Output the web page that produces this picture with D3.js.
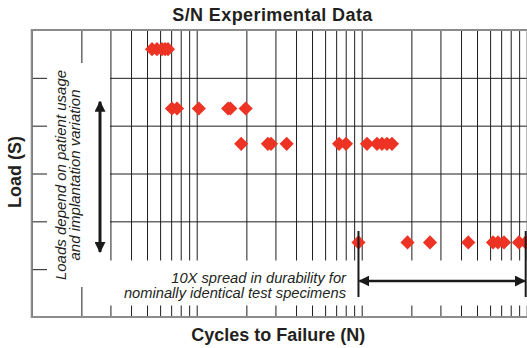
<!DOCTYPE html>
<html>
<head>
<meta charset="utf-8">
<script src="https://cdn.jsdelivr.net/npm/d3@7"></script>
<style>
  html, body { margin: 0; padding: 0; background: #fff; }
  svg { display: block; }
  text { font-family: "Liberation Sans", Arial, Helvetica, sans-serif; fill: #231f20; }
</style>
</head>
<body>
<svg id="chart" width="527" height="348"></svg>
<script>
// Load levels (S) tested, and the cycles to failure (N) observed at each level
const loadLevels = [560, 436, 362, 156];
const cyclesAtLevel1 = [53600, 57400, 61600, 64300, 67000];
const cyclesAtLevel2 = [70800, 76000, 103000, 155000, 160000, 198000];
const cyclesAtLevel3 = [186000, 270000, 282000, 351000, 729000, 803000, 1077000, 1238000, 1327000, 1423000, 1526000];
const cyclesAtLevel4 = [956000, 1895000, 2594000, 4426000, 6250000, 6700000, 7287000, 8975000, 9860000];
const cycleSeries = [cyclesAtLevel1, cyclesAtLevel2, cyclesAtLevel3, cyclesAtLevel4];

// Axis extents and grid
const cycleDomain = [1e4, 1e7];
const loadDomain = [0, 600];
const loadGridValues = [100, 200, 300, 400, 500];
// Range of loads spanned by the "patient usage" arrow
const loadSpread = [136, 450];

const titleText = "S/N Experimental Data";
const xLabel = "Cycles to Failure (N)";
const yLabel = "Load (S)";
const loadNote = ["Loads depend on patient usage", "and implantation variation"];
const spreadNote = ["10X spread in durability for", "nominally identical test specimens"];

const points = [];
cycleSeries.forEach((arr, i) => arr.forEach(n => points.push({ n, s: loadLevels[i], level: i })));

const svg = d3.select("#chart");
const plotLeft = 31.7, plotRight = 526.7, plotTop = 30, plotBottom = 317;

const x = d3.scaleLog().domain(cycleDomain).range([plotLeft, plotRight]);
const y = d3.scaleLinear().domain(loadDomain).range([plotBottom, plotTop]);

const gridColor = "#1e1e1e";
const frameColor = "#8c8c8c";
const red = "#ec3324";
const ink = "#1a1a1a";

// Vertical log gridlines (1..9 per decade)
const xGrid = svg.append("g")
  .attr("transform", `translate(0,${plotBottom})`)
  .call(d3.axisBottom(x).tickSizeInner(-(plotBottom - plotTop)).tickSizeOuter(0).tickFormat(""));
xGrid.select(".domain").remove();
xGrid.selectAll(".tick line").attr("stroke", gridColor).attr("stroke-width", 1);

// Horizontal load gridlines
const yGrid = svg.append("g")
  .attr("transform", `translate(${plotLeft},0)`)
  .call(d3.axisLeft(y).tickValues(loadGridValues).tickSizeInner(-(plotRight - plotLeft)).tickSizeOuter(0).tickFormat(""));
yGrid.select(".domain").remove();
yGrid.selectAll(".tick line").attr("stroke", gridColor).attr("stroke-width", 1);

// Frame: top, left, bottom
svg.append("path")
  .attr("d", `M${plotRight + 2},${plotTop} H${plotLeft} V${plotBottom} H${plotRight + 2}`)
  .attr("fill", "none")
  .attr("stroke", frameColor)
  .attr("stroke-width", 2);

// White panels behind the annotations
svg.append("rect").attr("x", 47).attr("y", 63).attr("width", 63).attr("height", 224).attr("fill", "#fff");
svg.append("rect").attr("x", 86).attr("y", 260.5).attr("width", 450).attr("height", 45).attr("fill", "#fff");

// Data markers: diamonds
const diamond = d3.symbol().type(d3.symbolSquare).size(100);
svg.append("g").selectAll("path")
  .data(points)
  .join("path")
  .attr("d", diamond)
  .attr("transform", d => `translate(${x(d.n)},${y(d.s)}) rotate(45)`)
  .attr("fill", red);

// Arrow marker defs
const defs = svg.append("defs");
defs.append("marker")
  .attr("id", "head")
  .attr("viewBox", "0 0 10 10")
  .attr("refX", 9).attr("refY", 5)
  .attr("markerUnits", "userSpaceOnUse")
  .attr("markerWidth", 11).attr("markerHeight", 11)
  .attr("orient", "auto-start-reverse")
  .append("path")
  .attr("d", "M0,0 L10,5 L0,10 Z")
  .attr("fill", ink);

// Vertical load-spread arrow
const arrowX = 100;
svg.append("line")
  .attr("x1", arrowX).attr("x2", arrowX)
  .attr("y1", y(loadSpread[0])).attr("y2", y(loadSpread[1]))
  .attr("stroke", ink).attr("stroke-width", 3)
  .attr("marker-start", "url(#head)")
  .attr("marker-end", "url(#head)");

// Rotated note on load variation
const noteG = svg.append("g").attr("transform", `translate(0,175) rotate(-90)`);
noteG.selectAll("text")
  .data(loadNote)
  .join("text")
  .attr("x", 0)
  .attr("y", (d, i) => 66 + i * 13.5)
  .attr("text-anchor", "middle")
  .attr("font-size", 15)
  .attr("font-style", "italic")
  .text(d => d);

// Durability spread at the lowest load
const spanStart = d3.min(cyclesAtLevel4), spanEnd = d3.max(cyclesAtLevel4);
const barTop = 231, barBottom = 297, spanY = 281;
[spanStart, spanEnd].forEach(n => {
  svg.append("line")
    .attr("x1", x(n)).attr("x2", x(n))
    .attr("y1", barTop).attr("y2", barBottom)
    .attr("stroke", ink).attr("stroke-width", 2);
});
svg.append("line")
  .attr("x1", x(spanStart) + 1).attr("x2", x(spanEnd) - 1)
  .attr("y1", spanY).attr("y2", spanY)
  .attr("stroke", ink).attr("stroke-width", 2.5)
  .attr("marker-start", "url(#head)")
  .attr("marker-end", "url(#head)");

svg.append("g").selectAll("text")
  .data(spreadNote)
  .join("text")
  .attr("x", 346)
  .attr("y", (d, i) => 282.5 + i * 15)
  .attr("text-anchor", "end")
  .attr("font-size", 14.7)
  .attr("font-style", "italic")
  .text(d => d);

// Title and axis labels
svg.append("text")
  .attr("x", 272.5).attr("y", 20.7)
  .attr("text-anchor", "middle")
  .attr("font-size", 18)
  .attr("font-weight", "bold")
  .attr("letter-spacing", 0.4)
  .text(titleText);

svg.append("text")
  .attr("x", 278.3).attr("y", 341)
  .attr("text-anchor", "middle")
  .attr("font-size", 18)
  .attr("font-weight", "bold")
  .text(xLabel);

svg.append("text")
  .attr("transform", `translate(20.5,172) rotate(-90)`)
  .attr("text-anchor", "middle")
  .attr("font-size", 18)
  .attr("font-weight", "bold")
  .text(yLabel);
</script>
</body>
</html>
